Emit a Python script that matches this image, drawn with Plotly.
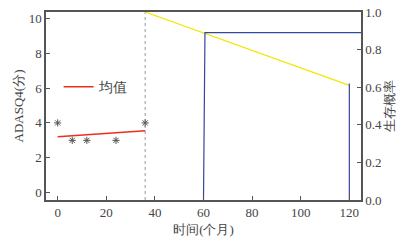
import plotly.graph_objects as go

# observed scores (asterisks)
obs_t = [0, 6, 12, 24, 36]
obs_score = [4, 3, 3, 3, 4]
# mean trend line
mean_t = [0, 36]
mean_score = [3.2, 3.55]
# reference dotted line at 36 months
ref_t = [36, 36]
ref_y = [-0.42, 10.36]
# survival probability (yellow)
surv_t = [36, 120]
surv_p = [1.0, 0.61]
# step lines (blue)
step1_t = [60, 60.6, 124.8]
step1_p = [0, 0.89, 0.89]
step2_t = [120, 120]
step2_p = [0, 0.62]

x_ticks = [0, 20, 40, 60, 80, 100, 120]
y_ticks = [0, 2, 4, 6, 8, 10]
y2_ticks = [0, 0.2, 0.4, 0.6, 0.8, 1.0]

SERIF = "Times New Roman, Liberation Serif, serif"
AX = "#555555"

fig = go.Figure()
fig.add_trace(go.Scatter(x=ref_t, y=ref_y, mode="lines",
                         line=dict(color="#999999", width=1, dash="dot"),
                         showlegend=False, hoverinfo="skip"))
fig.add_trace(go.Scatter(x=obs_t, y=obs_score, mode="markers",
                         marker=dict(symbol="asterisk", size=6, color="#555555",
                                     line=dict(color="#555555", width=1)),
                         showlegend=False))
fig.add_trace(go.Scatter(x=mean_t, y=mean_score, mode="lines", name="均值",
                         line=dict(color="#e8301e", width=1.5)))
fig.add_trace(go.Scatter(x=surv_t, y=surv_p, mode="lines", yaxis="y2",
                         line=dict(color="#f2e600", width=1.2), showlegend=False))
fig.add_trace(go.Scatter(x=step1_t, y=step1_p, mode="lines", yaxis="y2",
                         line=dict(color="#33479c", width=1.2), showlegend=False))
fig.add_trace(go.Scatter(x=step2_t, y=step2_p, mode="lines", yaxis="y2",
                         line=dict(color="#33479c", width=1.2), showlegend=False))

fig.update_layout(
    template="none",
    width=409, height=235,
    margin=dict(l=38, r=56, t=4, b=43, autoexpand=False),
    plot_bgcolor="white", paper_bgcolor="white",
    font=dict(family=SERIF, size=13, color="#444444"),
    xaxis=dict(range=[-4.8, 124.8], tickvals=x_ticks, showgrid=False, zeroline=False,
               showline=True, linecolor=AX, linewidth=1.5, mirror=True, automargin=False,
               ticks="inside", ticklen=4, tickcolor=AX,
               title=dict(text="时间(个月)", font=dict(size=13), standoff=6)),
    yaxis=dict(range=[-0.42, 10.36], tickvals=y_ticks, showgrid=False, zeroline=False,
               showline=True, linecolor=AX, linewidth=1.5, automargin=False,
               ticks="inside", ticklen=4, tickcolor=AX, ticklabeloverflow="allow",
               title=dict(text="ADASQ4(分)", font=dict(size=13), standoff=2)),
    yaxis2=dict(range=[0, 1.0], tickvals=y2_ticks, tickformat=".1f", overlaying="y",
                side="right", showgrid=False, zeroline=False, automargin=False,
                showline=True, linecolor=AX, linewidth=1.5, ticklabeloverflow="allow",
                ticks="inside", ticklen=4, tickcolor=AX,
                title=dict(text="生存概率", font=dict(size=13), standoff=2)),
    legend=dict(x=0.04, y=0.6, xanchor="left", yanchor="middle",
                bgcolor="rgba(0,0,0,0)", font=dict(size=14)),
)

fig.write_html("out.html")
